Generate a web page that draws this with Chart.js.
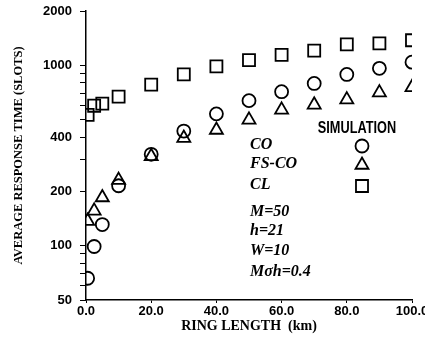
<!DOCTYPE html>
<html>
<head>
<meta charset="utf-8">
<script src="https://cdn.jsdelivr.net/npm/chart.js@4/dist/chart.umd.min.js"></script>
<style>
  html, body { margin: 0; padding: 0; background: #fff; }
  #wrap { width: 425px; height: 337px; }
</style>
</head>
<body>
<div id="wrap"><canvas id="chart" width="425" height="337"></canvas></div>
<script>
// ring length (km) and simulated average response time (slots)
const ringLength = [0.5, 2.5, 5, 10, 20, 30, 40, 50, 60, 70, 80, 90, 100];
const coSim = [66, 99, 131, 215, 321, 432, 538, 637, 714, 793, 890, 962, 1041];
const fsCoSim = [137, 156, 185, 231, 313, 395, 438, 498, 566, 604, 645, 706, 754];
const clSim = [531, 597, 613, 670, 782, 890, 987, 1069, 1142, 1205, 1305, 1324, 1377];

const yMajorTicks = [50, 100, 200, 400, 1000, 2000];
const yMinorTicks = [60, 70, 80, 90, 300, 500, 600, 700, 800, 900];
const xTicks = [0, 20, 40, 60, 80, 100];

const legendLabels = ["CO", "FS-CO", "CL"];
const legendStyles = ["circle", "triangle", "rect"];
const paramLabels = ["M=50", "h=21", "W=10", "M\u03C3h=0.4"];

const serif = "'Liberation Serif', 'DejaVu Serif', serif";
const sans = "'Liberation Sans', Arial, sans-serif";

const pts = (ys) => ys.map((y, i) => ({ x: ringLength[i], y: y }));
const marker = (label, data, style, r) => ({
  label, data: pts(data), pointStyle: style, pointRadius: r, pointHoverRadius: r,
  pointBorderWidth: 1.8, borderColor: "#000", pointBorderColor: "#000",
  backgroundColor: "rgba(0,0,0,0)", pointBackgroundColor: "rgba(0,0,0,0)", showLine: false
});

const notes = {
  id: "notes",
  afterDraw(chart) {
    const ctx = chart.ctx;
    ctx.save();
    ctx.fillStyle = "#000";
    ctx.textBaseline = "middle";
    // SIMULATION header, condensed
    ctx.save();
    ctx.translate(357, 128);
    ctx.scale(0.75, 1);
    ctx.font = "bold 17px " + sans;
    ctx.textAlign = "center";
    ctx.fillText("SIMULATION", 0, 0);
    ctx.restore();

    ctx.font = "italic bold 16px " + serif;
    ctx.textAlign = "left";
    const rowY = [145, 164, 185];
    legendLabels.forEach((t, i) => {
      ctx.fillStyle = "#000";
      ctx.fillText(t, 250, rowY[i]);
      const r = legendStyles[i] === "rect" ? 8.5 : (legendStyles[i] === "triangle" ? 7.5 : 6.5);
      ctx.save();
      ctx.fillStyle = "rgba(0,0,0,0)";
      ctx.strokeStyle = "#000";
      ctx.lineWidth = 1.8;
      Chart.helpers.drawPoint(ctx, { pointStyle: legendStyles[i], radius: r, borderWidth: 1.8 }, 362, rowY[i] + 1);
      ctx.restore();
    });
    ctx.fillStyle = "#000";
    const paramY = [212, 231, 251, 272];
    paramLabels.forEach((t, i) => ctx.fillText(t, 250, paramY[i]));
    ctx.restore();
  }
};

new Chart(document.getElementById("chart"), {
  type: "scatter",
  data: {
    datasets: [
      marker("CO", coSim, "circle", 6.5),
      marker("FS-CO", fsCoSim, "triangle", 7.5),
      marker("CL", clSim, "rect", 8.5)
    ]
  },
  options: {
    responsive: false,
    animation: false,
    devicePixelRatio: 1,
    layout: { padding: { top: 11, right: 13, left: 0, bottom: 0 } },
    plugins: { legend: { display: false }, tooltip: { enabled: false } },
    scales: {
      x: {
        type: "linear", min: 0, max: 100,
        afterBuildTicks: (s) => { s.ticks = xTicks.map((v) => ({ value: v })); },
        afterFit: (s) => { s.height = 37; s.paddingRight = 0; s.paddingLeft = 0; },
        border: { display: true, color: "#000", width: 1.5 },
        grid: { display: true, drawOnChartArea: false, drawTicks: true, tickLength: 3, color: "#000" },
        ticks: { color: "#000", font: { family: sans, size: 13, weight: "bold" }, padding: 1, maxRotation: 0,
          callback: (v) => Number(v).toFixed(1) },
        title: { display: true, text: "RING LENGTH  (km)", color: "#000",
          font: { family: serif, size: 14, weight: "bold" }, padding: { top: 0, bottom: 2 } }
      },
      y: {
        type: "logarithmic", min: 50, max: 2000,
        afterBuildTicks: (s) => { s.ticks = yMajorTicks.concat(yMinorTicks).sort((a, b) => a - b).map((v) => ({ value: v })); },
        afterFit: (s) => { s.width = 86; s.paddingTop = 0; s.paddingBottom = 0; },
        border: { display: true, color: "#000", width: 1.5 },
        grid: { display: true, drawOnChartArea: false, drawTicks: true, tickLength: 6, color: "#000" },
        ticks: { color: "#000", font: { family: sans, size: 13, weight: "bold" }, padding: 8, autoSkip: false,
          callback: (v) => yMajorTicks.includes(v) ? String(v) : "" },
        title: { display: true, text: "AVERAGE RESPONSE TIME (SLOTS)", color: "#000",
          font: { family: serif, size: 12.5, weight: "bold" }, padding: { top: 11, bottom: 4 } }
      }
    }
  },
  plugins: [notes]
});
</script>
</body>
</html>
